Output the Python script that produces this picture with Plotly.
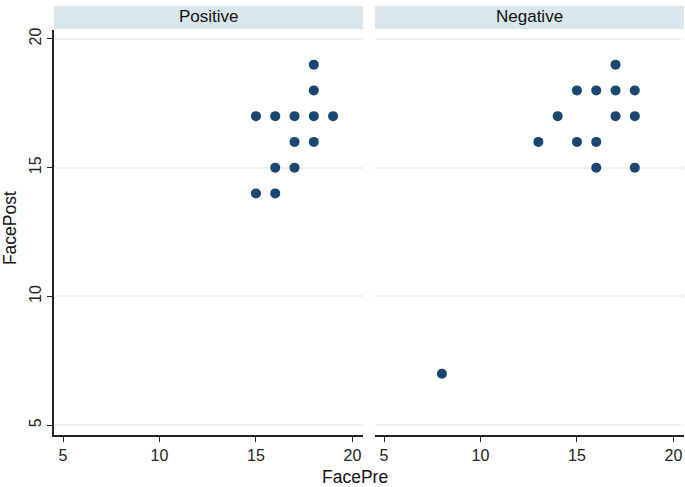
import plotly.graph_objects as go

panels = ["Positive", "Negative"]
pos_pre = [15, 16, 17, 18, 19, 18, 18, 17, 18, 16, 17, 15, 16]
pos_post = [17, 17, 17, 17, 17, 19, 18, 16, 16, 15, 15, 14, 14]
neg_pre = [17, 15, 16, 17, 18, 14, 17, 18, 13, 15, 16, 16, 18, 8]
neg_post = [19, 18, 18, 18, 18, 17, 17, 17, 16, 16, 16, 15, 15, 7]
x_ticks = [5, 10, 15, 20]
y_ticks = [5, 10, 15, 20]

W, H = 685, 487
navy = "#1a476f"
grid = "#eaf2f3"
strip = "#d9e6eb"
font = "Liberation Sans, Arial, sans-serif"

fig = go.Figure()
fig.add_trace(go.Scatter(x=pos_pre, y=pos_post, mode="markers", xaxis="x", yaxis="y",
                         marker=dict(color=navy, size=10, line=dict(width=0)), showlegend=False))
fig.add_trace(go.Scatter(x=neg_pre, y=neg_post, mode="markers", xaxis="x2", yaxis="y2",
                         marker=dict(color=navy, size=10, line=dict(width=0)), showlegend=False))

px_l = (54, 363)
px_r = (375, 684)
top, bot = 28, 435
dom_y = [(H - bot) / H, (H - top) / H]

xcommon = dict(range=[4.53, 20.55], tickvals=x_ticks, ticks="outside", ticklen=5, tickwidth=1.2,
               tickcolor="#222", showline=True, linecolor="#222", linewidth=1.5, showgrid=False,
               zeroline=False, tickfont=dict(family=font, size=16, color="#222"), fixedrange=True)
ycommon = dict(range=[4.61, 20.35], tickvals=y_ticks, showgrid=True, gridcolor=grid, gridwidth=1.5,
               zeroline=False, domain=dom_y, fixedrange=True)

fig.update_layout(
    width=W, height=H, margin=dict(l=0, r=0, t=0, b=0),
    paper_bgcolor="white", plot_bgcolor="white",
    xaxis=dict(domain=[px_l[0] / W, px_l[1] / W], anchor="y", **xcommon),
    xaxis2=dict(domain=[px_r[0] / W, px_r[1] / W], anchor="y2", **xcommon),
    yaxis=dict(anchor="x", ticks="outside", ticklen=5, tickwidth=1.2, tickcolor="#222",
               showline=True, linecolor="#222", linewidth=1.5, tickangle=-90,
               tickfont=dict(family=font, size=16, color="#222"), **ycommon),
    yaxis2=dict(anchor="x2", showticklabels=False, ticks="", showline=False, **ycommon),
)

for (x0, x1), name in zip([px_l, px_r], panels):
    fig.add_shape(type="rect", xref="paper", yref="paper",
                  x0=x0 / W, x1=x1 / W, y0=(H - 27) / H, y1=(H - 4) / H,
                  fillcolor=strip, line=dict(width=0), layer="below")
    fig.add_annotation(x=(x0 + x1) / 2 / W, y=(H - 15) / H, xref="paper", yref="paper",
                       text=name, showarrow=False, xanchor="center", yanchor="middle",
                       font=dict(family=font, size=17, color="#111"))

fig.add_annotation(x=355 / W, y=(H - 477) / H, xref="paper", yref="paper", text="FacePre",
                   showarrow=False, xanchor="center", yanchor="middle",
                   font=dict(family=font, size=17.5, color="#111"))
fig.add_annotation(x=10 / W, y=(H - 227) / H, xref="paper", yref="paper", text="FacePost",
                   showarrow=False, textangle=-90, xanchor="center", yanchor="middle",
                   font=dict(family=font, size=17.5, color="#111"))

fig.write_html("out.html", config={"displayModeBar": False},
               post_script="document.body.style.margin='0';document.body.style.overflow='hidden';")
